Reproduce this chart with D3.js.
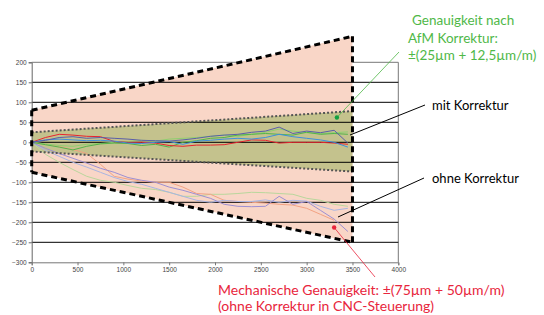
<!DOCTYPE html>
<html>
<head>
<meta charset="utf-8">
<script src="https://cdn.jsdelivr.net/npm/d3@7"></script>
<style>
  html, body { margin: 0; padding: 0; background: #fff; }
  svg { display: block; }
  .tick text { font-family: "Liberation Sans", Arial, sans-serif; font-size: 6.5px; fill: #444; }
  .note { font-family: Lato, "Open Sans", sans-serif; }
</style>
</head>
<body>
<script>
// measuring positions along the axis (mm)
const xs = [0, 150, 300, 450, 600, 750, 900, 1050, 1200, 1350, 1500, 1650,
            1800, 1950, 2100, 2250, 2400, 2550, 2700, 2850, 3000, 3150, 3300, 3450];

// deviations with correction (µm)
const mitRed       = [0, 12, 20, 18, 15, 14, 2, 0, 0, -2, -8, -10, -7, -7, -6, 0, 6, 5, -2, 0, 0, 0, -2, -5];
const mitBlue      = [0, 6, 8, 6, 4, 5, 3, -2, -3, 0, 2, -5, 3, 5, 8, 10, 8, 12, 20, 14, 10, 6, 0, -12];
const mitDarkBlue  = [0, 5, 12, 14, 10, 12, 10, 8, 5, 4, 3, 6, 10, 15, 18, 20, 25, 28, 38, 22, 28, 24, 30, -2];
const mitGreen     = [0, -6, -12, -19, -10, -4, -2, -3, -8, -5, -12, 0, 4, 10, 12, 18, 20, 22, 20, 18, 25, 20, 22, 20];
const mitLightGrn  = [0, -4, -8, -10, -5, -3, 0, 2, 5, 3, 8, 10, 12, 15, 18, 15, 20, 25, 33, 28, 24, 22, 24, 26];

// deviations without correction (µm)
const ohneOrange   = [0, -4, -10, -18, -28, -55, -85, -92, -97, -100, -100, -112, -128, -130, -145, -148, -150, -152, -155, -157, -165, -180, -195, null];
const ohnePurple   = [0, -15, -28, -40, -52, -65, -75, -88, -95, -100, -112, -120, -130, -140, -155, -160, -161, -160, -135, -155, -148, -170, -192, -223];
const ohneLightBlu = [0, -20, -35, -50, -62, -75, -88, -98, -105, -115, -125, -135, -145, -150, -145, -148, -148, -144, -150, -145, -147, -160, -170, -165];
const ohneLightGrn = [0, -30, -50, -68, -85, -95, -100, -108, -115, -118, -125, -135, -135, -130, -130, -128, -125, -126, -128, -130, -140, -145, -155, -160];

// tolerance bands: [at 0 mm, at 3500 mm]
const bandX      = [0, 3500];
const mechUpper  = [80, 265];
const mechLower  = [-75, -250];
const afmUpper   = [25, 78];
const afmLower   = [-23, -73];

const xTicks = [0, 500, 1000, 1500, 2000, 2500, 3000, 3500, 4000];
const yTicks = [200, 150, 100, 50, 0, -50, -100, -150, -200, -250, -300];

const width = 544, height = 315;
const x = d3.scaleLinear().domain([0, 4000]).range([31.7, 398.3]);
const y = d3.scaleLinear().domain([-300, 200]).range([262.3, 62.3]);

const svg = d3.select('body').append('svg')
  .attr('width', width)
  .attr('height', height);

// frame top / right
svg.append('path')
  .attr('d', `M${x(0)},${y(200)}H${x(4000)}V${y(-300)}`)
  .attr('fill', 'none')
  .attr('stroke', '#777')
  .attr('stroke-width', 1);

function bandPath(upper, lower) {
  let pts = bandX.map((d, i) => [x(d), y(upper[i])]);
  let low = bandX.map((d, i) => [x(d), y(lower[i])]).reverse();
  return d3.line()(pts.concat(low)) + 'Z';
}

svg.append('path').attr('d', bandPath(mechUpper, mechLower)).attr('fill', '#f9d6c7');
svg.append('path').attr('d', bandPath(afmUpper, afmLower)).attr('fill', '#c4c28d');

// grid lines
svg.append('g')
  .selectAll('line')
  .data(yTicks.filter(d => d < 200 && d > -300))
  .join('line')
  .attr('x1', x(0)).attr('x2', x(4000))
  .attr('y1', d => y(d)).attr('y2', d => y(d))
  .attr('stroke', '#000')
  .attr('stroke-width', 1);

// axes
let yAxis = svg.append('g')
  .attr('transform', `translate(${x(0)},0)`)
  .call(d3.axisLeft(y).tickValues(yTicks).tickFormat(d3.format('d')).tickSize(3).tickPadding(2));
yAxis.select('.domain').attr('stroke', '#666');
yAxis.selectAll('.tick line').attr('stroke', '#666');

let xAxis = svg.append('g')
  .attr('transform', `translate(0,${y(-300)})`)
  .call(d3.axisBottom(x).tickValues(xTicks).tickFormat(d3.format('d')).tickSize(3).tickPadding(2));
xAxis.select('.domain').attr('stroke', '#777');
xAxis.selectAll('.tick line').attr('stroke', '#777');

// measurement lines
const line = d3.line()
  .defined(d => d[1] != null)
  .x(d => x(d[0]))
  .y(d => y(d[1]));

const series = [
  [ohneLightGrn, '#b9d79c'],
  [ohneOrange, '#f3a283'],
  [ohneLightBlu, '#a9b5e2'],
  [ohnePurple, '#9d8fd2'],
  [mitLightGrn, '#8fcf6f'],
  [mitGreen, '#52b44a'],
  [mitRed, '#e8232f'],
  [mitBlue, '#3f8fdc'],
  [mitDarkBlue, '#5a5ea8']
];

svg.append('g')
  .selectAll('path')
  .data(series)
  .join('path')
  .attr('d', s => line(xs.map((d, i) => [d, s[0][i]])))
  .attr('fill', 'none')
  .attr('stroke', s => s[1])
  .attr('stroke-width', 1);

// band borders
function edge(vals) {
  return d3.line()(bandX.map((d, i) => [x(d), y(vals[i])]));
}
[afmUpper, afmLower].forEach(v => {
  svg.append('path').attr('d', edge(v))
    .attr('fill', 'none').attr('stroke', '#555')
    .attr('stroke-width', 2).attr('stroke-dasharray', '2,2');
});
[mechUpper, mechLower].forEach(v => {
  svg.append('path').attr('d', edge(v))
    .attr('fill', 'none').attr('stroke', '#000')
    .attr('stroke-width', 3).attr('stroke-dasharray', '6,4');
});
bandX.forEach((d, i) => {
  svg.append('line')
    .attr('x1', x(d)).attr('x2', x(d))
    .attr('y1', y(mechUpper[i])).attr('y2', y(mechLower[i]))
    .attr('stroke', '#000').attr('stroke-width', 3)
    .attr('stroke-dasharray', '6,4');
});

// annotations
const green = '#4fb848', red = '#e8253c';

svg.append('line')
  .attr('x1', x(3330)).attr('y1', y(62))
  .attr('x2', 399).attr('y2', 52)
  .attr('stroke', green).attr('stroke-width', 0.8);
svg.append('circle').attr('cx', x(3330)).attr('cy', y(62)).attr('r', 2.2).attr('fill', '#12a040');

svg.append('line')
  .attr('x1', 350).attr('y1', 135).attr('x2', 425).attr('y2', 105)
  .attr('stroke', '#000').attr('stroke-width', 1);
svg.append('line')
  .attr('x1', 338).attr('y1', 217).attr('x2', 424).attr('y2', 178)
  .attr('stroke', '#000').attr('stroke-width', 1);

svg.append('line')
  .attr('x1', x(3300)).attr('y1', y(-213))
  .attr('x2', 375).attr('y2', 277)
  .attr('stroke', red).attr('stroke-width', 0.8);
svg.append('circle').attr('cx', x(3300)).attr('cy', y(-213)).attr('r', 2.2).attr('fill', red);

const notes = [
  ['Genauigkeit nach', 412, 25, green, 13.5],
  ['AfM Korrektur:', 408, 43, green, 13.5],
  ['±(25µm + 12,5µm/m)', 408, 60, green, 13.5],
  ['mit Korrektur', 432, 110, '#000', 13],
  ['ohne Korrektur', 432, 183, '#000', 13],
  ['Mechanische Genauigkeit: ±(75µm + 50µm/m)', 218, 295, red, 14],
  ['(ohne Korrektur in CNC-Steuerung)', 218, 311, red, 14]
];
svg.append('g')
  .selectAll('text')
  .data(notes)
  .join('text')
  .attr('class', 'note')
  .attr('x', d => d[1]).attr('y', d => d[2])
  .attr('fill', d => d[3])
  .attr('font-size', d => d[4] + 'px')
  .text(d => d[0]);
</script>
</body>
</html>
